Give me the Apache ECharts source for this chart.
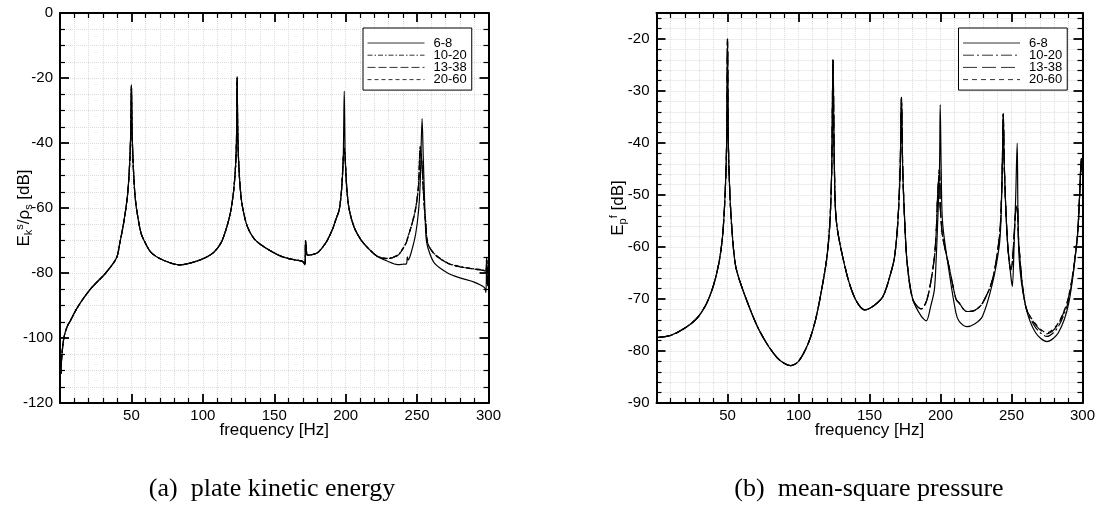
<!DOCTYPE html>
<html>
<head>
<meta charset="utf-8">
<script src="https://cdn.jsdelivr.net/npm/echarts@6/dist/echarts.min.js"></script>
<style>
html,body{margin:0;padding:0;background:#fff;}
#chart{width:1098px;height:510px;}
</style>
</head>
<body>
<div id="chart"></div>
<script>
// ---------------- data ----------------
const seriesLabels = ['6-8', '10-20', '13-38', '20-60'];

// (a) plate kinetic energy  E_k^s / rho_s [dB]
const ekFreq = [
  0.6, 1.2, 2.7, 5, 7.5, 11, 15, 22, 32, 39.5,
  42, 44, 46, 47.5, 48.8, 49.5, 50, 50.5, 51.2, 52.3,
  53.5, 56.7, 60, 64, 72, 84, 96, 103, 108, 113,
  117, 119.5, 121.5, 123, 123.6, 124, 124.5, 125.2, 126.3, 127.7,
  131, 136, 143, 155, 165, 170, 171.5, 171.9, 172.4, 173.2,
  177, 180.3, 184, 187.3, 191, 193.1, 195.5, 197.2, 198.3, 199,
  199.7, 200.8, 202.5, 206, 210.7, 216, 222.3, 229, 236.4, 240,
  242.5, 243.2, 243.8, 246, 249, 251, 252.2, 253.5, 254.3, 255.2,
  256.2, 257.4, 262, 271.4, 280, 290, 297.2, 298.2, 298.7, 299.3,
  300
];
const ek6_8 = [
  -111, -106, -100, -96.5, -94.5, -91.5, -88.7, -84.6, -80, -75.4,
  -70.5, -66, -60.5, -55, -46, -37, -22, -37, -46, -55,
  -60, -67.7, -71, -73.8, -76, -77.5, -76.3, -75, -73.5, -70.5,
  -65.5, -61, -55, -46.5, -38, -19.5, -38, -47, -54.5, -59.5,
  -65.5, -69.5, -72, -74.9, -76, -76.5, -77.5, -70, -72, -74.5,
  -74.3, -73.8, -72, -69.8, -66.3, -63.6, -60.5, -54, -45, -24,
  -45, -54, -60.5, -66, -69.8, -72.5, -74.9, -76.3, -77.4, -77.3,
  -77.2, -75, -76, -73.5, -68, -61, -52, -32.5, -44, -57,
  -68.7, -72, -76.9, -80, -81.5, -82.8, -84.5, -86, -76, -84,
  -80
];
const ek10_20 = [
  -111, -106, -100, -96.5, -94.5, -91.5, -88.7, -84.6, -80, -75.4,
  -70.5, -66, -60.5, -55, -46, -37, -22.5, -37, -46, -55,
  -60, -67.7, -71, -73.8, -76, -77.5, -76.3, -75, -73.5, -70.5,
  -65.5, -61, -55, -46.5, -38, -20, -38, -47, -54.5, -59.5,
  -65.5, -69.5, -72, -74.9, -76, -76.5, -77.5, -70, -72, -74.5,
  -74.3, -73.8, -72, -69.8, -66.3, -63.6, -60.5, -54, -45, -41.5,
  -45, -54, -60.5, -66, -69.8, -72.5, -74.9, -75.5, -74.5, -72.5,
  -70.5, -69.5, -68.5, -65.5, -60, -53, -41, -47, -54, -60.5,
  -65, -70.8, -74, -76.9, -78, -78.7, -79.2, -79.8, -75.5, -80,
  -78
];
const ek13_38 = [
  -111, -106, -100, -96.5, -94.5, -91.5, -88.7, -84.6, -80, -75.4,
  -70.5, -66, -60.5, -55, -46, -37, -22.5, -37, -46, -55,
  -60, -67.7, -71, -73.8, -76, -77.5, -76.3, -75, -73.5, -70.5,
  -65.5, -61, -55, -46.5, -38, -20, -38, -47, -54.5, -59.5,
  -65.5, -69.5, -72, -74.9, -76, -76.5, -77.5, -70, -72, -74.5,
  -74.3, -73.8, -72, -69.8, -66.3, -63.6, -60.5, -54, -45, -42,
  -45, -54, -60.5, -66, -69.8, -72.5, -74.9, -75.6, -74.6, -72.6,
  -70.6, -69.6, -68.6, -65.6, -60.2, -53.2, -41.5, -47.2, -54, -60.5,
  -65.2, -70.8, -74.1, -77, -78.1, -78.8, -79.3, -79.8, -75.5, -80,
  -78
];
const ek20_60 = [
  -111, -106, -100, -96.5, -94.5, -91.5, -88.7, -84.6, -80, -75.4,
  -70.5, -66, -60.5, -55, -46, -37, -22.5, -37, -46, -55,
  -60, -67.7, -71, -73.8, -76, -77.5, -76.3, -75, -73.5, -70.5,
  -65.5, -61, -55, -46.5, -38, -20, -38, -47, -54.5, -59.5,
  -65.5, -69.5, -72, -74.9, -76, -76.5, -77.5, -70, -72, -74.5,
  -74.3, -73.8, -72, -69.8, -66.3, -63.6, -60.5, -54, -45, -42,
  -45, -54, -60.5, -66, -69.8, -72.5, -74.9, -75.6, -74.6, -72.6,
  -70.6, -69.6, -68.6, -65.6, -60.2, -53.2, -41.5, -47.2, -54, -60.5,
  -65.2, -70.8, -74.1, -77, -78.1, -78.8, -79.3, -79.8, -75.5, -80,
  -78
];

// (b) mean-square pressure  E_p^f [dB]
const epFreq = [
  0.6, 10, 20, 28.5, 35, 40, 44, 46.5, 48.3, 49.4,
  50, 50.6, 51.7, 53.5, 56, 62.9, 72.7, 85, 94.5, 100,
  106.9, 112, 116.3, 120, 122.1, 123.4, 124.3, 125.3, 126.8, 133.8,
  140, 146.7, 153, 159.5, 165, 167.7, 170, 171.6, 172.5, 173.4,
  174.8, 176.5, 180.5, 186.4, 190, 193, 195.7, 197, 198, 199.3,
  199.8, 200.5, 201.5, 206.2, 210.9, 213.2, 218.5, 224, 229.6, 236.6,
  241.3, 242.5, 243.5, 244.2, 245, 247.1, 249.5, 250.6, 251.8, 253,
  254, 255.3, 260, 267, 275, 283, 290.3, 296.2, 298, 299.2,
  300
];
const ep6_8 = [
  -77.4, -77, -75.6, -73.7, -71, -67.5, -63, -58, -50, -40,
  -20, -40, -50, -58, -64, -69.8, -76.2, -81.3, -82.8, -82,
  -78.5, -74, -68.2, -62, -55.4, -45, -24, -45, -55.4, -65,
  -70, -72.1, -71.3, -69.5, -65, -61.8, -55, -45, -31.2, -45,
  -55, -63, -70.1, -73.3, -74.2, -71.5, -68.2, -62, -55.4, -45,
  -32.6, -45, -55.4, -65, -72.7, -74.3, -75.3, -74.8, -73.3, -67,
  -60, -55.4, -45, -34.4, -45, -58.6, -65.5, -67.6, -60, -50,
  -40, -61.8, -71.4, -76.5, -78.2, -76.5, -70.8, -58.6, -50, -43,
  -46
];
const ep10_20 = [
  -77.4, -77, -75.6, -73.7, -71, -67.5, -63, -58, -50, -40,
  -20, -40, -50, -58, -64, -69.8, -76.2, -81.3, -82.8, -82,
  -78.5, -74, -68.2, -62, -55.4, -45, -24, -45, -55.4, -65,
  -70, -72.1, -71.3, -69.5, -65, -61.8, -55, -45, -31.2, -45,
  -55, -63, -70.1, -71.9, -70.5, -67, -62, -57, -50, -45,
  -52, -55, -58, -64, -70, -70.8, -72.4, -72.2, -70.8, -66.3,
  -58.6, -54, -45, -34.4, -45, -58.6, -64.4, -63, -58, -53,
  -52, -60, -71.4, -75.5, -77.2, -75.3, -70.1, -58.6, -50, -43,
  -46
];
const ep13_38 = [
  -77.4, -77, -75.6, -73.7, -71, -67.5, -63, -58, -50, -40,
  -20, -40, -50, -58, -64, -69.8, -76.2, -81.3, -82.8, -82,
  -78.5, -74, -68.2, -62, -55.4, -45, -24, -45, -55.4, -65,
  -70, -72.1, -71.3, -69.5, -65, -61.8, -55, -45, -31.2, -45,
  -55, -63, -70.1, -71.9, -70.5, -67, -62, -57, -50, -45,
  -52, -55, -58, -64, -70, -70.8, -72.4, -72.2, -70.8, -66.3,
  -58.6, -54, -45, -34.4, -45, -58.6, -64.4, -63, -58, -53,
  -52, -60, -71.4, -75, -76.7, -74.8, -69.5, -58.6, -50, -43,
  -46
];
const ep20_60 = [
  -77.4, -77, -75.6, -73.7, -71, -67.5, -63, -58, -50, -40,
  -20, -40, -50, -58, -64, -69.8, -76.2, -81.3, -82.8, -82,
  -78.5, -74, -68.2, -62, -55.4, -45, -24, -45, -55.4, -65,
  -70, -72.1, -71.3, -69.5, -65, -61.8, -55, -45, -31.2, -45,
  -55, -63, -70.1, -71.9, -70.5, -67, -62, -57, -50, -45,
  -52, -55, -58, -64, -70, -70.8, -72.4, -72.2, -70.8, -66.3,
  -58.6, -54, -45, -34.4, -45, -58.6, -64.4, -63, -58, -53,
  -52, -60, -71.4, -74.8, -76.5, -74.6, -69.5, -58.6, -50, -43,
  -46
];

// ---------------- chart ----------------
const FONT = '"Liberation Sans", Arial, Helvetica, sans-serif';
const SERIF = '"Liberation Serif", "Times New Roman", serif';
const gridLineStyle = { type: 'dotted', color: '#dcdcdc', width: 1 };

function pairs(xs, ys) { return xs.map((x, i) => [x, ys[i]]); }

function xAxisPair(gridIndex) {
  const base = {
    type: 'value', gridIndex: gridIndex, min: 0, max: 300, interval: 50,
    axisLine: { show: true, onZero: false, lineStyle: { color: '#000', width: 2 } },
    axisTick: { show: true, inside: true, length: 9, lineStyle: { color: '#000', width: 1.8 } },
    minorTick: { show: true, splitNumber: 5, length: 5, lineStyle: { color: '#000', width: 1.2 } }
  };
  return [
    Object.assign({}, base, {
      position: 'bottom',
      name: 'frequency [Hz]', nameLocation: 'middle', nameGap: 19, nameMoveOverlap: false,
      nameTextStyle: { fontFamily: FONT, fontSize: 17, color: '#000' },
      axisLabel: { show: true, showMinLabel: false, fontFamily: FONT, fontSize: 15, color: '#000', margin: 5 },
      splitLine: { show: true, lineStyle: gridLineStyle },
      minorSplitLine: { show: true, lineStyle: gridLineStyle }
    }),
    Object.assign({}, base, {
      position: 'top',
      axisLabel: { show: false },
      splitLine: { show: false }, minorSplitLine: { show: false }
    })
  ];
}

function yAxisPair(gridIndex, min, max, interval, minorSplit, name, nameGap, showMax) {
  const base = {
    type: 'value', gridIndex: gridIndex, min: min, max: max, interval: interval,
    axisLine: { show: true, onZero: false, lineStyle: { color: '#000', width: 2 } },
    axisTick: { show: true, inside: true, length: 9, lineStyle: { color: '#000', width: 1.8 } },
    minorTick: { show: true, splitNumber: minorSplit, length: 5, lineStyle: { color: '#000', width: 1.2 } }
  };
  return [
    Object.assign({}, base, {
      position: 'left',
      name: name, nameLocation: 'middle', nameGap: nameGap, nameMoveOverlap: false,
      nameTextStyle: {
        fontFamily: FONT, fontSize: 17, color: '#000',
        rich: {
          m: { fontFamily: FONT, fontSize: 17, color: '#000', lineHeight: 24, verticalAlign: 'middle' },
          sb: { fontFamily: FONT, fontSize: 11, color: '#000', lineHeight: 24, verticalAlign: 'bottom', padding: [0, 0, 2, 0] },
          sp: { fontFamily: FONT, fontSize: 11, color: '#000', lineHeight: 24, verticalAlign: 'top', padding: [2, 0, 0, 0] }
        }
      },
      axisLabel: { show: true, showMaxLabel: showMax, fontFamily: FONT, fontSize: 15, color: '#000', margin: 7 },
      splitLine: { show: true, lineStyle: gridLineStyle },
      minorSplitLine: { show: true, lineStyle: gridLineStyle }
    }),
    Object.assign({}, base, {
      position: 'right',
      axisLabel: { show: false },
      splitLine: { show: false }, minorSplitLine: { show: false }
    })
  ];
}

const dashA = { '6-8': 'solid', '10-20': [5, 2, 1.5, 2], '13-38': [8, 3], '20-60': [4, 3] };
const dashB = { '6-8': 'solid', '10-20': [11, 3, 2, 3], '13-38': [14, 5], '20-60': [5, 4] };

const ekData = { '6-8': ek6_8, '10-20': ek10_20, '13-38': ek13_38, '20-60': ek20_60 };
const epData = { '6-8': ep6_8, '10-20': ep10_20, '13-38': ep13_38, '20-60': ep20_60 };

function lineSeries(name, xi, freq, vals, dash) {
  return {
    name: name, type: 'line', xAxisIndex: xi, yAxisIndex: xi,
    data: pairs(freq, vals), symbol: 'none', showSymbol: false,
    smooth: 0.3,
    lineStyle: { color: '#000', width: 1.2, type: dash },
    itemStyle: { color: '#000' }, animation: false, clip: true
  };
}

const series = [];
seriesLabels.forEach(function (lab) {
  series.push(lineSeries('a:' + lab, 0, ekFreq, ekData[lab], dashA[lab]));
});
seriesLabels.forEach(function (lab) {
  series.push(lineSeries('b:' + lab, 2, epFreq, epData[lab], dashB[lab]));
});

function legendFor(prefix, left) {
  return {
    show: true, orient: 'vertical', left: left, top: 28,
    data: seriesLabels.map(function (l) { return prefix + l; }),
    formatter: function (n) { return n.slice(2); },
    itemWidth: 57, itemHeight: 10, itemGap: -0.8,
    padding: [8.5, 5, 4, 4],
    borderColor: '#000', borderWidth: 1, backgroundColor: '#fff',
    selectedMode: false,
    itemStyle: { opacity: 0, color: 'rgba(0,0,0,0)', borderWidth: 0 },
    lineStyle: { width: 1, color: '#333' },
    textStyle: { fontFamily: FONT, fontSize: 13, color: '#000', lineHeight: 11, padding: [0, 0, 0, 4] }
  };
}

const xa = xAxisPair(0).concat(xAxisPair(1));
const ya = yAxisPair(0, -120, 0, 20, 4,
  '{m|E}{sb|k}{sp|s}{m|/ρ}{sb|s}{m| [dB]}', 24, true)
  .concat(yAxisPair(1, -90, -15, 10, 5, '{m|E}{sb|p}{sp|f}{m| [dB]}', 26, false));

const option = {
  animation: false,
  backgroundColor: '#fff',
  grid: [
    { left: 60, top: 13, width: 428.5, height: 390, containLabel: false },
    { left: 656.5, top: 13, width: 426.5, height: 390, containLabel: false }
  ],
  xAxis: xa,
  yAxis: ya,
  legend: [legendFor('a:', 363), legendFor('b:', 958.5)],
  series: series,
  graphic: [
    { type: 'text', x: 272, y: 489, style: { text: '(a)  plate kinetic energy', fontFamily: SERIF, fontSize: 26, fill: '#000', align: 'center', verticalAlign: 'middle' } },
    { type: 'text', x: 869, y: 489, style: { text: '(b)  mean-square pressure', fontFamily: SERIF, fontSize: 26, fill: '#000', align: 'center', verticalAlign: 'middle' } }
  ]
};

const chart = echarts.init(document.getElementById('chart'), null, { renderer: 'canvas' });
chart.setOption(option);
</script>
</body>
</html>
